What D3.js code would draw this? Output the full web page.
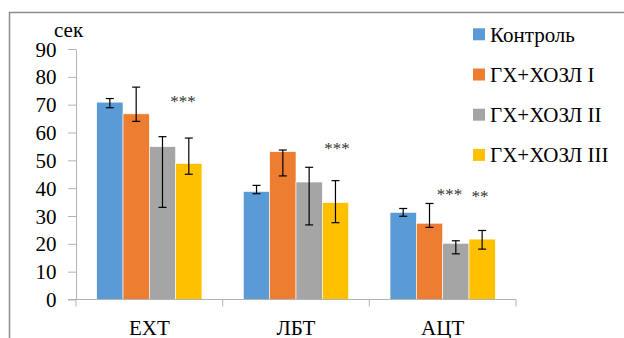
<!DOCTYPE html>
<html>
<head>
<meta charset="utf-8">
<script src="https://cdn.jsdelivr.net/npm/d3@7"></script>
<style>
  body { margin: 0; background: #fff; }
</style>
</head>
<body>
<svg id="chart" width="624" height="338"></svg>
<script>
// data
var categories = ["EXT", "ЛБТ", "АЦТ"];
var groups = ["Контроль", "ГХ+ХОЗЛ I", "ГХ+ХОЗЛ II", "ГХ+ХОЗЛ III"];
var colors = ["#5B9BD5", "#ED7D31", "#A5A5A5", "#FFC000"];
// mean per group, one array per category
var extVals = [70.9, 66.7, 54.9, 48.9];
var lbtVals = [38.8, 53.1, 42.2, 34.8];
var actVals = [31.3, 27.4, 20.2, 21.7];
// error bar ends (upper / lower)
var extHi = [72.2, 76.3, 58.5, 58.0];
var extLo = [68.9, 64.0, 33.1, 45.0];
var lbtHi = [41.0, 53.7, 47.5, 42.7];
var lbtLo = [38.0, 44.4, 26.8, 27.6];
var actHi = [32.7, 34.5, 21.1, 24.8];
var actLo = [29.9, 25.9, 16.4, 18.1];
// significance marks
var markCats = ["EXT", "ЛБТ", "АЦТ", "АЦТ"];
var markTexts = ["***", "***", "***", "**"];
var markPos = [3.28, 3.56, 2.26, 3.42];   // in bar widths from first bar
var markVals = [72.5, 55.5, 39.0, 38.2];  // vertical centre, in axis units
var yTicks = [0, 10, 20, 30, 40, 50, 60, 70, 80, 90];

var rows = [
  {cat: "EXT", vals: extVals, hi: extHi, lo: extLo},
  {cat: "ЛБТ", vals: lbtVals, hi: lbtHi, lo: lbtLo},
  {cat: "АЦТ", vals: actVals, hi: actHi, lo: actLo}
];

var serif = "Times New Roman";

var margin = {left: 76, top: 49};
var width = 516 - margin.left, height = 299.5 - margin.top;

var svg = d3.select("#chart").attr("font-family", serif);

// outer frame (runs off the picture on right and bottom)
svg.append("rect")
    .attr("x", 9.5).attr("y", 12.5)
    .attr("width", 700).attr("height", 400)
    .attr("fill", "none").attr("stroke", "#8c8c8c").attr("stroke-width", 1.5);

var g = svg.append("g").attr("transform", "translate(" + margin.left + "," + margin.top + ")");

var x0 = d3.scaleBand().domain(categories).range([0, width]);
var x1 = d3.scaleBand().domain(groups).range([20.7, x0.bandwidth() - 20.7]);
var y = d3.scaleLinear().domain([0, 90]).range([height, 0]);

// bars
var cat = g.selectAll(".cat").data(rows).enter().append("g")
    .attr("transform", function(d) { return "translate(" + x0(d.cat) + ",0)"; });

cat.selectAll("rect").data(function(d) { return d.vals.map(function(v, i) { return {v: v, i: i}; }); })
  .enter().append("rect")
    .attr("x", function(d) { return x1(groups[d.i]); })
    .attr("y", function(d) { return y(d.v); })
    .attr("width", x1.bandwidth())
    .attr("height", function(d) { return height - y(d.v); })
    .attr("fill", function(d) { return colors[d.i]; })
    .attr("stroke", "#fff").attr("stroke-width", 0.6);

// error bars
var eb = cat.selectAll(".err").data(function(d) {
    return d.vals.map(function(v, i) { return {hi: d.hi[i], lo: d.lo[i], i: i}; });
  }).enter().append("g").attr("class", "err")
    .attr("transform", function(d) { return "translate(" + (x1(groups[d.i]) + x1.bandwidth() / 2) + ",0)"; })
    .attr("stroke", "#000").attr("stroke-width", 1.2);
eb.append("line").attr("y1", function(d) { return y(d.hi); }).attr("y2", function(d) { return y(d.lo); });
eb.append("line").attr("x1", -4).attr("x2", 4).attr("y1", function(d) { return y(d.hi); }).attr("y2", function(d) { return y(d.hi); });
eb.append("line").attr("x1", -4).attr("x2", 4).attr("y1", function(d) { return y(d.lo); }).attr("y2", function(d) { return y(d.lo); });

// significance stars
g.selectAll(".mark").data(markTexts).enter().append("text")
    .attr("x", function(d, i) { return x0(markCats[i]) + x1(groups[0]) + markPos[i] * x1.bandwidth(); })
    .attr("y", function(d, i) { return y(markVals[i]) + 9; })
    .attr("text-anchor", "middle")
    .attr("font-size", 17).attr("fill", "#333")
    .text(function(d) { return d; });

// y axis
var yAxis = g.append("g")
    .call(d3.axisLeft(y).tickValues(yTicks).tickSize(8).tickSizeOuter(0));
yAxis.attr("font-family", serif).attr("font-size", 21);
yAxis.select(".domain").attr("stroke", "#b3b3b3");
yAxis.selectAll(".tick line").attr("stroke", "#b3b3b3");
yAxis.selectAll(".tick text")
    .attr("x", -19.5).attr("dy", "0.34em")
    .attr("font-size", 21).attr("fill", "#000");

// x axis
var xAxis = g.append("g").attr("transform", "translate(0," + height + ")")
    .call(d3.axisBottom(x0).tickSize(0).tickSizeOuter(0));
xAxis.attr("font-family", serif).attr("font-size", 21);
xAxis.select(".domain").attr("d", "M-8,0H" + width).attr("stroke", "#b3b3b3");
xAxis.selectAll(".tick text")
    .attr("y", 35).attr("dy", 0)
    .attr("font-size", 21).attr("fill", "#000");
// category separators
g.selectAll(".sep").data(categories.concat(["end"])).enter().append("line")
    .attr("x1", function(d, i) { return i * x0.step(); })
    .attr("x2", function(d, i) { return i * x0.step(); })
    .attr("y1", height).attr("y2", height + 7)
    .attr("stroke", "#b3b3b3");

// unit label
svg.append("text").attr("x", 54).attr("y", 36.5)
    .attr("font-size", 21).text("сек");

// legend
var leg = svg.selectAll(".leg").data(groups).enter().append("g")
    .attr("transform", function(d, i) { return "translate(473," + (34.3 + i * 40.2) + ")"; });
leg.append("rect").attr("x", 0).attr("y", -6).attr("width", 12).attr("height", 12)
    .attr("fill", function(d, i) { return colors[i]; });
leg.append("text").attr("x", 17).attr("y", 7.5)
    .attr("font-size", 21).text(function(d) { return d; });

svg.selectAll("text").attr("font-family", serif);
</script>
</body>
</html>
